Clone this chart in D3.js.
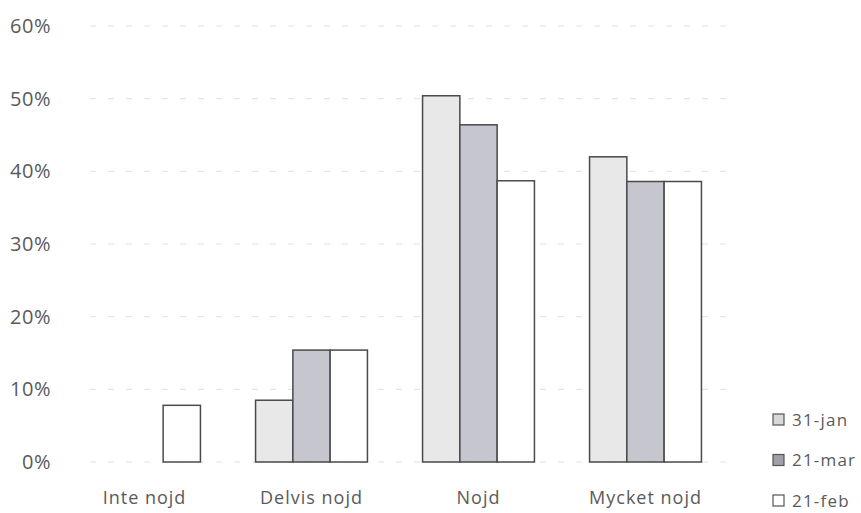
<!DOCTYPE html>
<html><head><meta charset="utf-8">
<script src="https://cdn.jsdelivr.net/npm/d3@7"></script>
<style>body{margin:0;background:#fff;} text{font-family:"Open Sans",sans-serif;}</style>
</head><body>
<svg id="c" width="861" height="513"></svg>
<script>
const categories = ["Inte nojd", "Delvis nojd", "Nojd", "Mycket nojd"];
const seriesNames = ["31-jan", "21-mar", "21-feb"];
const jan31 = [0, 0.085, 0.504, 0.42];
const mar21 = [0, 0.154, 0.464, 0.386];
const feb21 = [0.078, 0.154, 0.387, 0.386];
const yTicks = [0, 0.1, 0.2, 0.3, 0.4, 0.5, 0.6];
const colors = ["#e8e8e8", "#c6c6cf", "#ffffff"];
const legendColors = ["#d8d8d8", "#a0a0a8", "#ffffff"];
const seriesVals = [jan31, mar21, feb21];

const svg = d3.select("#c");
const x = d3.scaleBand().domain(categories).range([61, 729]).paddingInner(0.33).paddingOuter(0.165);
const x1 = d3.scaleBand().domain(seriesNames).range([0, x.bandwidth()]);
const y = d3.scaleLinear().domain([0, 0.6]).range([462, 26]);

// gridlines
svg.append("g").selectAll("line").data(yTicks).join("line")
  .attr("x1", 90).attr("x2", 728)
  .attr("y1", d => y(d)).attr("y2", d => y(d))
  .attr("stroke", "#e0e0e0").attr("stroke-width", 1).attr("stroke-dasharray", "6,12");

// y axis labels
const yAxis = d3.axisLeft(y).tickValues(yTicks).tickFormat(d3.format(".0%")).tickSize(0).tickPadding(0);
const gy = svg.append("g").attr("transform", "translate(51,0)").call(yAxis);
gy.select(".domain").remove();
gy.selectAll("text").attr("font-size", 20).attr("letter-spacing", 0.5).attr("fill", "#5a5a5a").attr("font-family", "Open Sans, sans-serif");

// bars
const data = categories.map((c, i) => ({c, vals: seriesNames.map((s, j) => ({s, v: seriesVals[j][i], j}))}));
const grp = svg.append("g").selectAll("g").data(data).join("g")
  .attr("transform", d => `translate(${x(d.c)},0)`);
grp.selectAll("rect").data(d => d.vals.filter(v => v.v > 0)).join("rect")
  .attr("x", d => x1(d.s)).attr("width", x1.bandwidth())
  .attr("y", d => y(d.v)).attr("height", d => y(0) - y(d.v))
  .attr("fill", d => colors[d.j]).attr("stroke", "#4a4a4a").attr("stroke-width", 1.5);

// x axis labels
const xAxis = d3.axisBottom(x).tickSize(0).tickPadding(0);
const gx = svg.append("g").attr("transform", "translate(0,491)").call(xAxis);
gx.select(".domain").remove();
gx.selectAll("text").attr("font-size", 18).attr("letter-spacing", 1).attr("fill", "#5a5a5a").attr("font-family", "Open Sans, sans-serif");

// legend
const leg = svg.append("g").selectAll("g").data(seriesNames).join("g")
  .attr("transform", (d, i) => `translate(773,${420 + i * 40.5})`);
leg.append("rect").attr("x", 0).attr("y", -6).attr("width", 11).attr("height", 11)
  .attr("fill", (d, i) => legendColors[i]).attr("stroke", "#555").attr("stroke-width", 1.2);
leg.append("text").attr("x", 19).attr("y", 0).attr("dy", "0.35em").attr("letter-spacing", 1.2)
  .attr("font-size", 17).attr("fill", "#5a5a5a").text(d => d);
</script>
</body></html>
